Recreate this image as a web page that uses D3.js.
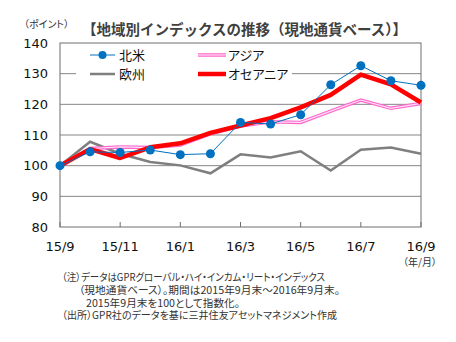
<!DOCTYPE html>
<html lang="ja">
<head>
<meta charset="UTF-8" />
<script src="https://d3js.org/d3.v7.min.js"></script>
<style type="text/css">
  body { margin: 0; background: #fff; }
  svg text { font-family: "Noto Sans CJK JP", sans-serif; font-feature-settings: "palt"; }
  svg text.title { font-feature-settings: normal; }
  .num { font-family: "DejaVu Sans", sans-serif !important; }
</style>
<title>地域別インデックスの推移</title>
</head>
<body>
<script type="text/javascript">
// months 15/9 .. 16/9
var months = ["15/9","15/10","15/11","15/12","16/1","16/2","16/3","16/4","16/5","16/6","16/7","16/8","16/9"];
var tickLabels = ["15/9","15/11","16/1","16/3","16/5","16/7","16/9"];
var yTicks = [80, 90, 100, 110, 120, 130, 140];

var northAmerica = [100, 104.5, 104.3, 105.1, 103.6, 103.9, 114.1, 113.6, 116.6, 126.4, 132.6, 127.7, 126.2];
var asia         = [100, 105.6, 106.1, 105.9, 106.7, 110.4, 112.9, 114.3, 114.1, 117.8, 121.4, 118.7, 120.3];
var europe       = [100, 107.8, 103.9, 101.2, 100.1, 97.5, 103.7, 102.7, 104.7, 98.4, 105.2, 105.9, 103.9];
var oceania      = [100, 105.4, 102.5, 106.0, 107.3, 110.7, 113.1, 115.5, 119.0, 123.1, 129.7, 126.5, 120.6];

var notes = [
  {x: 62, y: 281, w: 263, t: "（注）データはGPRグローバル・ハイ・インカム・リート・インデックス"},
  {x: 79, y: 293.5, w: 261, t: "（現地通貨ベース）。期間は2015年9月末～2016年9月末。"},
  {x: 86, y: 306.5, w: 154, t: "2015年9月末を100として指数化。"},
  {x: 62, y: 319, w: 275, t: "（出所）GPR社のデータを基に三井住友アセットマネジメント作成"}
];

var W = 456, H = 342;
var x0 = 60, x1 = 421, yTop = 43, yBot = 227;

var svg = d3.select("body").append("svg")
    .attr("width", W)
    .attr("height", H);

var x = d3.scaleLinear().domain([0, months.length - 1]).range([x0, x1]);
var y = d3.scaleLinear().domain([80, 140]).range([yBot, yTop]);

// gridlines
svg.selectAll(".grid")
   .data(yTicks.slice(1, -1))
   .enter().append("line")
   .attr("x1", x0).attr("x2", x1)
   .attr("y1", function(d) { return y(d); })
   .attr("y2", function(d) { return y(d); })
   .attr("stroke", "#868686")
   .attr("stroke-width", 1);

// frame
svg.append("rect")
   .attr("x", x0).attr("y", yTop)
   .attr("width", x1 - x0).attr("height", yBot - yTop)
   .attr("fill", "none")
   .attr("stroke", "#6e6e6e")
   .attr("stroke-width", 1);

// y labels
svg.selectAll(".ylab")
   .data(yTicks)
   .enter().append("text")
   .attr("class", "num")
   .attr("x", 48)
   .attr("y", function(d) { return y(d); })
   .attr("dy", "0.36em")
   .attr("text-anchor", "end")
   .attr("font-size", "13px")
   .attr("fill", "#111")
   .text(function(d) { return d; });

// x ticks (inside) and labels
svg.selectAll(".xtick")
   .data(tickLabels)
   .enter().append("line")
   .attr("x1", function(d) { return x(months.indexOf(d)); })
   .attr("x2", function(d) { return x(months.indexOf(d)); })
   .attr("y1", yBot).attr("y2", yBot - 5)
   .attr("stroke", "#6e6e6e");

svg.selectAll(".xlab")
   .data(tickLabels)
   .enter().append("text")
   .attr("class", "num")
   .attr("x", function(d) { return x(months.indexOf(d)); })
   .attr("y", 251)
   .attr("text-anchor", "middle")
   .attr("font-size", "13px")
   .attr("fill", "#111")
   .text(function(d) { return d; });

var line = d3.line()
    .x(function(d, i) { return x(i); })
    .y(function(d) { return y(d); });

// europe
svg.append("path").datum(europe)
   .attr("d", line).attr("fill", "none")
   .attr("stroke", "#7f7f7f").attr("stroke-width", 2.5);

// asia (double pink line)
svg.append("path").datum(asia)
   .attr("d", line).attr("fill", "none")
   .attr("stroke", "#ff66cc").attr("stroke-width", 3.5);
svg.append("path").datum(asia)
   .attr("d", line).attr("fill", "none")
   .attr("stroke", "#ffe0f4").attr("stroke-width", 1.2);

// oceania
svg.append("path").datum(oceania)
   .attr("d", line).attr("fill", "none")
   .attr("stroke", "#ff0000").attr("stroke-width", 4.5)
   .attr("stroke-linejoin", "round");

// north america
svg.append("path").datum(northAmerica)
   .attr("d", line).attr("fill", "none")
   .attr("stroke", "#0070c0").attr("stroke-width", 1);
svg.selectAll(".dot")
   .data(northAmerica)
   .enter().append("circle")
   .attr("cx", function(d, i) { return x(i); })
   .attr("cy", function(d) { return y(d); })
   .attr("r", 4.5)
   .attr("fill", "#0070c0");

// legend
var lg = svg.append("g");
lg.append("rect")
  .attr("x", 76).attr("y", 46).attr("width", 216).attr("height", 37)
  .attr("fill", "#fff");

var legendItems = [
  {name: "北米", lx: 90, ly: 55, key: "na"},
  {name: "アジア", lx: 198, ly: 55, key: "asia"},
  {name: "欧州", lx: 90, ly: 74, key: "eu"},
  {name: "オセアニア", lx: 198, ly: 74, key: "oc"}
];

legendItems.forEach(function(it) {
  var g = lg.append("g");
  if (it.key == "na") {
    g.append("line").attr("x1", it.lx).attr("x2", it.lx + 25)
     .attr("y1", it.ly).attr("y2", it.ly)
     .attr("stroke", "#0070c0").attr("stroke-width", 1);
    g.append("circle").attr("cx", it.lx + 12.5).attr("cy", it.ly).attr("r", 4)
     .attr("fill", "#0070c0");
  } else if (it.key == "asia") {
    g.append("line").attr("x1", it.lx).attr("x2", it.lx + 28)
     .attr("y1", it.ly).attr("y2", it.ly)
     .attr("stroke", "#ff66cc").attr("stroke-width", 3.5);
    g.append("line").attr("x1", it.lx).attr("x2", it.lx + 28)
     .attr("y1", it.ly).attr("y2", it.ly)
     .attr("stroke", "#ffe0f4").attr("stroke-width", 1.2);
  } else if (it.key == "eu") {
    g.append("line").attr("x1", it.lx).attr("x2", it.lx + 25)
     .attr("y1", it.ly).attr("y2", it.ly)
     .attr("stroke", "#7f7f7f").attr("stroke-width", 2.5);
  } else {
    g.append("line").attr("x1", it.lx).attr("x2", it.lx + 28)
     .attr("y1", it.ly).attr("y2", it.ly)
     .attr("stroke", "#ff0000").attr("stroke-width", 4.5);
  }
  g.append("text")
   .attr("x", it.lx + (it.key == "na" || it.key == "eu" ? 29 : 30))
   .attr("y", it.ly).attr("dy", "0.36em")
   .attr("font-size", "13px")
   .attr("fill", "#111")
   .text(it.name);
});

// titles
svg.append("text")
   .attr("class", "title")
   .attr("x", 82).attr("y", 35)
   .attr("font-size", "14.5px")
   .attr("font-weight", "bold")
   .attr("fill", "#404040")
   .text("【地域別インデックスの推移（現地通貨ベース）】");

svg.append("text")
   .attr("x", 24).attr("y", 28)
   .attr("font-size", "10px")
   .attr("fill", "#333")
   .text("（ポイント）");

svg.append("text")
   .attr("x", 403).attr("y", 266)
   .attr("font-size", "10px")
   .attr("fill", "#333")
   .text("（年/月）");

svg.selectAll(".note")
   .data(notes)
   .enter().append("text")
   .attr("x", function(d) { return d.x; })
   .attr("y", function(d) { return d.y; })
   .attr("font-size", "10.5px")
   .attr("textLength", function(d) { return d.w; })
   .attr("lengthAdjust", "spacingAndGlyphs")
   .attr("fill", "#333")
   .text(function(d) { return d.t; });
</script>
</body>
</html>
